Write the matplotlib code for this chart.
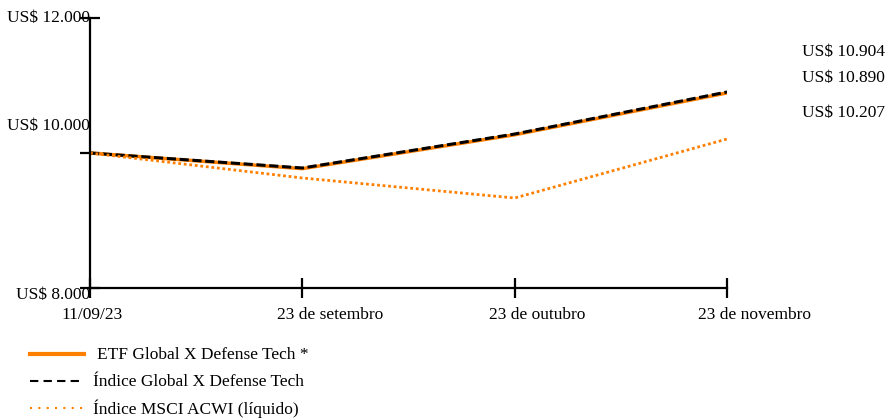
import matplotlib.pyplot as plt
from matplotlib.lines import Line2D

plt.rcParams['font.family'] = ['Liberation Serif', 'DejaVu Serif']
plt.rcParams['font.size'] = 12.5

# values
dates = ["11/09/23", "23 de setembro", "23 de outubro", "23 de novembro"]
etf = [10000, 9768, 10270, 10890]
idx_gx = [10000, 9778, 10281, 10904]
idx_msci = [10000, 9630, 9333, 10207]
end_labels = ["US$ 10.904", "US$ 10.890", "US$ 10.207"]
ytick_vals = [8000, 10000, 12000]
ytick_labels = ["US$ 8.000", "US$ 10.000", "US$ 12.000"]
legend_names = ["ETF Global X Defense Tech *", "Índice Global X Defense Tech", "Índice MSCI ACWI (líquido)"]

orange = "#ff8000"
W, H = 886, 419
fig = plt.figure(figsize=(W / 100, H / 100), dpi=100)

# axes box in pixels: x 90..727, y 18..288
ax = fig.add_axes([90 / W, (H - 288) / H, 637 / W, 270 / H])
xs = list(range(len(dates)))

ax.plot(xs, etf, color=orange, lw=2.5, solid_joinstyle='miter')
ax.plot(xs, idx_gx, color="black", lw=2.2, ls=(0, (3, 1.2)))
ax.plot(xs, idx_msci, color=orange, lw=2, ls=(0, (1, 1)))

ax.set_xlim(0, 3)
ax.set_ylim(8000, 12000)
for s in ["top", "right"]:
    ax.spines[s].set_visible(False)
for s in ["left", "bottom"]:
    ax.spines[s].set_linewidth(1.6)
    ax.spines[s].set_color("black")

ax.set_xticks(xs)
ax.set_xticklabels([])
ax.set_yticks(ytick_vals)
ax.set_yticklabels([])
ax.tick_params(axis="x", direction="inout", length=14, width=1.6)
ax.tick_params(axis="y", direction="inout", length=14, width=1.6)

# x labels, shifted like the original
xoffs = [2, 28, 23, 28]
for x, lab, o in zip(xs, dates, xoffs):
    ax.annotate(lab, xy=(x, 8000), xycoords="data", xytext=(o, -27), textcoords="offset pixels",
                ha="center", va="center", annotation_clip=False)

# y labels sit at odd offsets in the original
offs = [-7, 27, 0]
for v, lab, o in zip(ytick_vals, ytick_labels, offs):
    ax.annotate(lab, xy=(0, v), xycoords="data", xytext=(0, o), textcoords="offset pixels",
                ha="right", va="center", annotation_clip=False)

# end value labels on the right
for lab, ypix in zip(end_labels, [52, 78, 113]):
    fig.text(802 / W, 1 - ypix / H, lab, ha="left", va="center")

# legend drawn by hand
styles = [dict(color=orange, lw=3), dict(color="black", lw=1.5, ls=(0, (4, 2.5))),
          dict(color=orange, lw=1.5, ls=(0, (1, 3)))]
for i, (name, st) in enumerate(zip(legend_names, styles)):
    yp = 354 + 27 * i
    fig.add_artist(Line2D([30 / W, 84 / W], [1 - yp / H, 1 - yp / H], **st))
    fig.text((97 if i == 0 else 93) / W, 1 - (yp + 1) / H, name, ha="left", va="center")

fig.savefig("out.png", dpi=100)
